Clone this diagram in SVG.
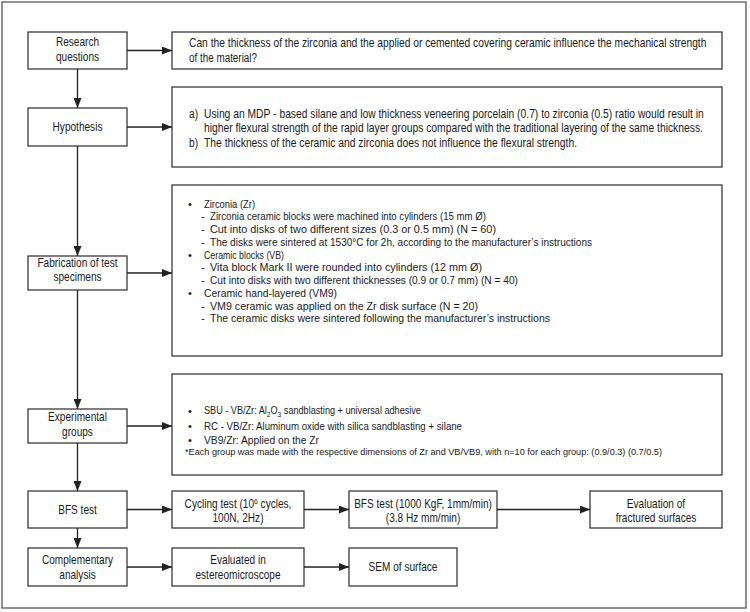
<svg xmlns="http://www.w3.org/2000/svg" width="750" height="612" viewBox="0 0 750 612">
<style>
.box{fill:#fff;stroke:#3a3a3a;stroke-width:1.3}
.outer{fill:#fff;stroke:#555;stroke-width:1.3}
text{font-family:"Liberation Sans",Arial,sans-serif;fill:#1a1a1a}
.lb{font-size:12px;text-anchor:middle}
.t12{font-size:12px}
.t11{font-size:11px}
.fn{font-size:9px}
.con line{stroke:#222;stroke-width:1.3;marker-end:url(#ah)}
</style>
<defs>
<marker id="ah" markerUnits="userSpaceOnUse" markerWidth="11" markerHeight="8" refX="10" refY="4" orient="auto">
<path d="M0,0 L10,4 L0,8 z" fill="#222"/>
</marker>
</defs>
<rect class="outer" x="2" y="2" width="744" height="606"/>

<g id="research-questions">
<rect class="box" x="28" y="32" width="99" height="37"/>
<text class="lb" transform="translate(77.5,46) scale(0.84,1)">Research</text>
<text class="lb" transform="translate(77.5,61) scale(0.84,1)">questions</text>
</g>
<g id="research-text">
<rect class="box" x="172" y="32" width="550" height="37"/>
<text class="t12" transform="translate(189,47) scale(0.84,1)" x="0" y="0" textLength="616" lengthAdjust="spacingAndGlyphs">Can the thickness of the zirconia and the applied or cemented covering ceramic influence the mechanical strength</text>
<text class="t12" x="189" y="62" textLength="68" lengthAdjust="spacingAndGlyphs">of the material?</text>
</g>

<g id="hypothesis">
<rect class="box" x="28" y="108" width="99" height="38"/>
<text class="lb" transform="translate(77.5,131) scale(0.84,1)">Hypothesis</text>
</g>
<g id="hypothesis-text">
<rect class="box" x="172" y="87" width="550" height="80"/>
<text class="t12" x="189" y="117.5" textLength="9" lengthAdjust="spacingAndGlyphs">a)</text>
<text class="t12" transform="translate(204,117.5) scale(0.84,1)" x="0" y="0" textLength="595" lengthAdjust="spacingAndGlyphs">Using an MDP - based silane and low thickness veneering porcelain (0.7) to zirconia (0.5) ratio would result in</text>
<text class="t12" transform="translate(204,132) scale(0.84,1)" x="0" y="0" textLength="594" lengthAdjust="spacingAndGlyphs">higher flexural strength of the rapid layer groups compared with the traditional layering of the same thickness.</text>
<text class="t12" x="189" y="146.5" textLength="9" lengthAdjust="spacingAndGlyphs">b)</text>
<text class="t12" x="204" y="146.5" textLength="373" lengthAdjust="spacingAndGlyphs">The thickness of the ceramic and zirconia does not influence the flexural strength.</text>
</g>

<g id="fabrication">
<rect class="box" x="28" y="256" width="99" height="34"/>
<text class="lb" transform="translate(77.5,267) scale(0.84,1)">Fabrication of test</text>
<text class="lb" transform="translate(77.5,281) scale(0.84,1)">specimens</text>
</g>
<g id="fabrication-text">
<rect class="box" x="172" y="185" width="550" height="171"/>
<g class="t11">
<text x="188" y="207.5">•</text>
<text x="204" y="207.5" textLength="51" lengthAdjust="spacingAndGlyphs">Zirconia (Zr)</text>
<text x="201" y="220.3">-</text>
<text x="210" y="220.3" textLength="276" lengthAdjust="spacingAndGlyphs">Zirconia ceramic blocks were machined into cylinders (15 mm Ø)</text>
<text x="201" y="233">-</text>
<text x="210" y="233" textLength="286" lengthAdjust="spacingAndGlyphs">Cut into disks of two different sizes (0.3 or 0.5 mm) (N = 60)</text>
<text x="201" y="245.8">-</text>
<text x="210" y="245.8" textLength="382" lengthAdjust="spacingAndGlyphs">The disks were sintered at 1530°C for 2h, according to the manufacturer’s instructions</text>
<text x="188" y="258.5">•</text>
<text x="204" y="258.5" textLength="80" lengthAdjust="spacingAndGlyphs">Ceramic blocks (VB)</text>
<text x="201" y="271.3">-</text>
<text x="210" y="271.3" textLength="272" lengthAdjust="spacingAndGlyphs">Vita block Mark II were rounded into cylinders (12 mm Ø)</text>
<text x="201" y="284">-</text>
<text x="210" y="284" textLength="308" lengthAdjust="spacingAndGlyphs">Cut into disks with two different thicknesses (0.9 or 0.7 mm) (N = 40)</text>
<text x="188" y="296.8">•</text>
<text x="204" y="296.8" textLength="133" lengthAdjust="spacingAndGlyphs">Ceramic hand-layered (VM9)</text>
<text x="201" y="309.5">-</text>
<text x="210" y="309.5" textLength="268" lengthAdjust="spacingAndGlyphs">VM9 ceramic was applied on the Zr disk surface (N = 20)</text>
<text x="201" y="322.3">-</text>
<text x="210" y="322.3" textLength="340" lengthAdjust="spacingAndGlyphs">The ceramic disks were sintered following the manufacturer’s instructions</text>
</g>
</g>

<g id="experimental-groups">
<rect class="box" x="28" y="409" width="99" height="34"/>
<text class="lb" transform="translate(77.5,421) scale(0.84,1)">Experimental</text>
<text class="lb" transform="translate(77.5,436) scale(0.84,1)">groups</text>
</g>
<g id="experimental-text">
<rect class="box" x="172" y="374" width="550" height="101"/>
<g class="t11">
<text x="188" y="414.5">•</text>
<text x="204" y="414.5" transform="translate(204,0) scale(0.83,1) translate(-204,0)">SBU - VB/Zr: Al<tspan font-size="8" dy="3">2</tspan><tspan dy="-3">O</tspan><tspan font-size="8" dy="3">3</tspan><tspan dy="-3"> sandblasting + universal adhesive</tspan></text>
<text x="188" y="429.5">•</text>
<text x="204" y="429.5" textLength="258" lengthAdjust="spacingAndGlyphs">RC - VB/Zr: Aluminum oxide with silica sandblasting + silane</text>
<text x="188" y="444">•</text>
<text x="204" y="444" textLength="115" lengthAdjust="spacingAndGlyphs">VB9/Zr: Applied on the Zr</text>
</g>
<text class="fn" x="185" y="455" textLength="477" lengthAdjust="spacingAndGlyphs">*Each group was made with the respective dimensions of Zr and VB/VB9, with n=10 for each group: (0.9/0.3) (0.7/0.5)</text>
</g>

<g id="bfs-test">
<rect class="box" x="28" y="491" width="99" height="37"/>
<text class="lb" transform="translate(77.5,514) scale(0.84,1)">BFS test</text>
</g>
<g id="cycling-test">
<rect class="box" x="172" y="491" width="132" height="37"/>
<text class="lb" transform="translate(238,507.5) scale(0.84,1)">Cycling test (10<tspan font-size="8" dy="-4">6</tspan><tspan dy="4"> cycles,</tspan></text>
<text class="lb" transform="translate(238,521.5) scale(0.84,1)">100N, 2Hz)</text>
</g>
<g id="bfs-test-detail">
<rect class="box" x="349" y="491" width="148" height="37"/>
<text class="lb" transform="translate(423,507.5) scale(0.84,1)">BFS test (1000 KgF, 1mm/min)</text>
<text class="lb" transform="translate(423,521.5) scale(0.84,1)">(3.8 Hz mm/min)</text>
</g>
<g id="evaluation">
<rect class="box" x="590" y="491" width="132" height="37"/>
<text class="lb" transform="translate(656,507.5) scale(0.84,1)">Evaluation of</text>
<text class="lb" transform="translate(656,521.5) scale(0.84,1)">fractured surfaces</text>
</g>

<g id="complementary">
<rect class="box" x="28" y="548" width="99" height="38"/>
<text class="lb" transform="translate(77.5,564) scale(0.84,1)">Complementary</text>
<text class="lb" transform="translate(77.5,579) scale(0.84,1)">analysis</text>
</g>
<g id="stereomicroscope">
<rect class="box" x="172" y="548" width="132" height="38"/>
<text class="lb" transform="translate(238,564) scale(0.84,1)">Evaluated in</text>
<text class="lb" transform="translate(238,579) scale(0.84,1)">estereomicroscope</text>
</g>
<g id="sem">
<rect class="box" x="349" y="548" width="108" height="38"/>
<text class="lb" transform="translate(403,571) scale(0.84,1)">SEM of surface</text>
</g>

<g id="connectors" class="con">
<line x1="77.5" y1="69" x2="77.5" y2="108"/>
<line x1="77.5" y1="146" x2="77.5" y2="256"/>
<line x1="77.5" y1="290" x2="77.5" y2="409"/>
<line x1="77.5" y1="443" x2="77.5" y2="491"/>
<line x1="77.5" y1="528" x2="77.5" y2="548"/>
<line x1="127" y1="50.5" x2="172" y2="50.5"/>
<line x1="127" y1="127" x2="172" y2="127"/>
<line x1="127" y1="273" x2="172" y2="273"/>
<line x1="127" y1="426" x2="172" y2="426"/>
<line x1="127" y1="509.5" x2="172" y2="509.5"/>
<line x1="127" y1="567" x2="172" y2="567"/>
<line x1="304" y1="509.5" x2="349" y2="509.5"/>
<line x1="497" y1="509.5" x2="590" y2="509.5"/>
<line x1="304" y1="567" x2="349" y2="567"/>
</g>
</svg>
